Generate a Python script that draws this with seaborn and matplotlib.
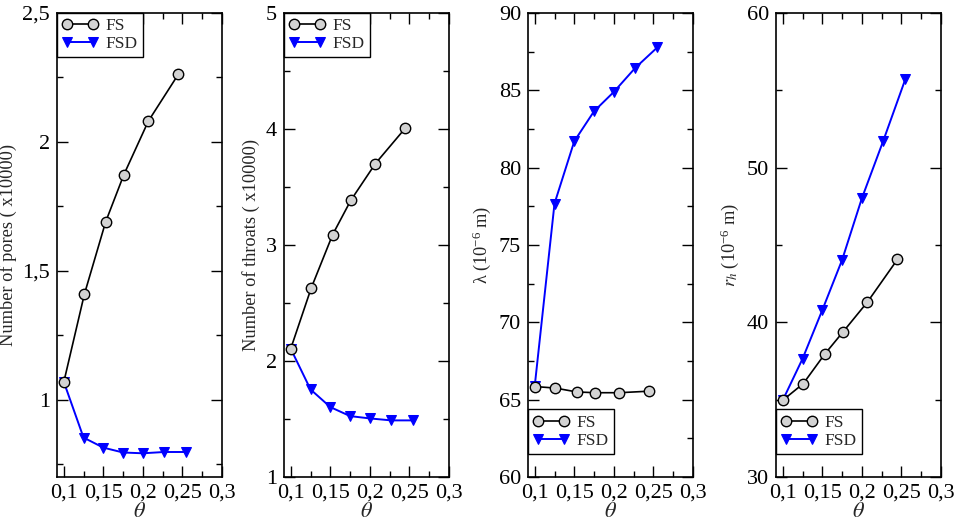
import numpy as np
import pandas as pd
import matplotlib
matplotlib.use("Agg")
import matplotlib.pyplot as plt
import seaborn as sns
from matplotlib.ticker import MultipleLocator, FuncFormatter

# datos
theta_fs = [0.1, 0.126, 0.153, 0.176, 0.207, 0.245]
theta_fsd = [0.1, 0.125, 0.15, 0.175, 0.2, 0.227, 0.255]

pores_fs = [1.067, 1.408, 1.69, 1.873, 2.081, 2.263]
pores_fsd = [1.07, 0.853, 0.814, 0.795, 0.792, 0.797, 0.797]

throats_fs = [2.106, 2.631, 3.09, 3.386, 3.702, 4.009]
throats_fsd = [2.106, 1.755, 1.603, 1.525, 1.505, 1.488, 1.488]

lambda_fs = [65.85, 65.75, 65.5, 65.45, 65.45, 65.55]
lambda_fsd = [65.88, 77.68, 81.71, 83.65, 84.9, 86.45, 87.78]

rh_fs = [34.96, 36.04, 37.94, 39.37, 41.31, 44.07]
rh_fsd = [34.96, 37.64, 40.79, 44.03, 48.02, 51.73, 55.73]

ylabels = ["Number of pores ( x10000)", "Number of throats ( x10000)",
           r"$\mathregular{\lambda\ (10^{-6}\ m)}$", r"$r_h$ $\mathregular{(10^{-6}\ m)}$"]
ylims = [(0.7, 2.5), (1, 5), (60, 90), (30, 60)]
ymajor = [0.5, 1, 5, 10]
legend_loc = ["upper left", "upper left", "lower left", "lower left"]

sns.set_style("ticks")
plt.rcParams['font.family'] = ['Liberation Serif', 'DejaVu Serif']
plt.rcParams['mathtext.fontset'] = 'stix'
plt.rcParams['font.size'] = 14

fig = plt.figure(figsize=(9.57, 5.25), dpi=100)
lefts = [57, 284, 528, 776]
axes = [fig.add_axes([l / 957, 48 / 525, 165 / 957, 464 / 525]) for l in lefts]

series = [(pores_fs, pores_fsd), (throats_fs, throats_fsd),
          (lambda_fs, lambda_fsd), (rh_fs, rh_fsd)]

# coma decimal en los ejes
comma = FuncFormatter(lambda v, p: ("%g" % round(v, 4)).replace(".", ","))

for i, ax in enumerate(axes):
    fs, fsd = series[i]
    sns.lineplot(x=theta_fs, y=fs, ax=ax, color="black", lw=1.2, marker="o",
                 markersize=7.5, markerfacecolor="#d3d3d3", markeredgecolor="black",
                 markeredgewidth=1.0, label="FS", zorder=3)
    sns.lineplot(x=theta_fsd, y=fsd, ax=ax, color="blue", lw=1.4, marker="v",
                 markersize=7.5, markerfacecolor="blue", markeredgecolor="blue",
                 label="FSD", zorder=2)
    ax.set_xlim(0.0915, 0.3)
    ax.set_ylim(*ylims[i])
    ax.xaxis.set_major_locator(MultipleLocator(0.05))
    ax.xaxis.set_minor_locator(MultipleLocator(0.025))
    ax.yaxis.set_major_locator(MultipleLocator(ymajor[i]))
    ax.yaxis.set_minor_locator(MultipleLocator(ymajor[i] / 2))
    ax.xaxis.set_major_formatter(comma)
    ax.yaxis.set_major_formatter(comma)
    ax.tick_params(which="both", direction="in", top=True, right=True,
                   width=1, labelsize=16, colors="black")
    ax.tick_params(which="major", length=8, pad=5)
    ax.tick_params(which="minor", length=4)
    for s in ax.spines.values():
        s.set_linewidth(1.2)
        s.set_color("black")
    ax.set_xlabel(r"$\theta$", fontsize=16, labelpad=0)
    ax.set_ylabel(ylabels[i], fontsize=13.2, labelpad=4)
    leg = ax.legend(loc=legend_loc[i], numpoints=2, frameon=True, fancybox=False,
                    edgecolor="black", framealpha=1, borderaxespad=0,
                    handlelength=2.1, handletextpad=0.4, borderpad=0.3,
                    labelspacing=0.1, fontsize=12.5)
    leg.get_frame().set_linewidth(1.0)
    if i >= 2:
        leg.set_bbox_to_anchor((0, 0.05, 1, 1), transform=ax.transAxes)

fig.savefig("out.png", dpi=100)
